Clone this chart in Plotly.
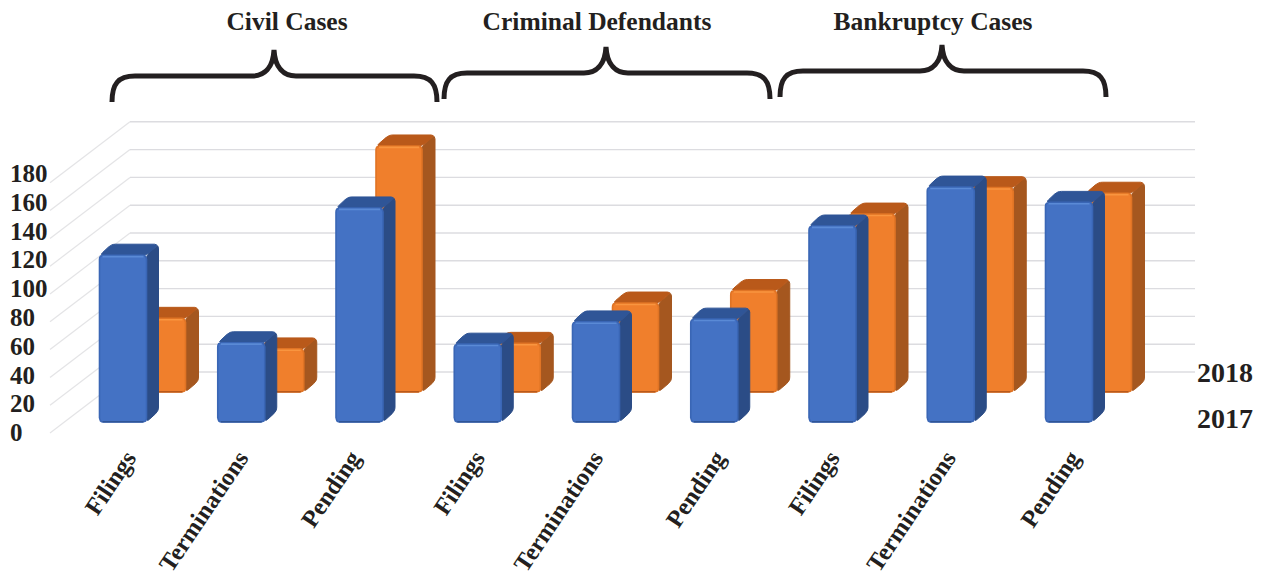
import plotly.graph_objects as go

# ---- data ----
groups = ["Civil Cases", "Criminal Defendants", "Bankruptcy Cases"]
categories = ["Filings", "Terminations", "Pending"] * 3
values_2017 = [120, 57, 154, 56, 72, 74, 141, 169, 158]
values_2018 = [53, 31, 177, 35, 64, 73, 128, 147, 143]
series_names = ["2018", "2017"]
y_ticks = [0, 20, 40, 60, 80, 100, 120, 140, 160, 180]

# ---- geometry and style ----
W, H = 1267, 577
PLOT_BOTTOM = 438
PX_PER_X = 118.25
X0_PX = 124
PX_PER_V = 1.39
V0_PX = 433
LABEL_PX_PER_V = 1.44
LABEL_V0_PX = 435
FONT = "Liberation Serif"
INK = "#231f20"
TICK_NUDGE_PX = [3, -3, -9, -3, -3, 1, -3, -5, 1]


def x_of(px):
    return (px - X0_PX) / PX_PER_X


def v_of(px):
    return (V0_PX - px) / PX_PER_V


def rounded(points, r=3.0, n=4):
    """Rounded polygon in data units, r given in pixels."""
    out = []
    m = len(points)
    for k in range(m):
        p0, p1, p2 = points[k - 1], points[k], points[(k + 1) % m]

        def toward(a, b):
            dx = (b[0] - a[0]) * PX_PER_X
            dy = (b[1] - a[1]) * PX_PER_V
            d = max((dx * dx + dy * dy) ** 0.5, 1e-6)
            f = min(r / d, 0.5)
            return (a[0] + (b[0] - a[0]) * f, a[1] + (b[1] - a[1]) * f)

        a, b = toward(p1, p0), toward(p1, p2)
        for j in range(n + 1):
            t = j / n
            out.append(((1 - t) ** 2 * a[0] + 2 * t * (1 - t) * p1[0] + t * t * b[0],
                        (1 - t) ** 2 * a[1] + 2 * t * (1 - t) * p1[1] + t * t * b[1]))
    out.append(out[0])
    return [p[0] for p in out], [p[1] for p in out]


fig = go.Figure()

# back wall gridlines and side wall diagonals
wall_left, wall_right, wall_front = x_of(130), x_of(1195), x_of(50)
wall_depth = 61 / PX_PER_V
for v in y_ticks:
    fig.add_trace(go.Scatter(
        x=[wall_front, wall_left], y=[v, v + wall_depth], mode="lines",
        line=dict(color="#e4e4e6", width=1.2), hoverinfo="skip", showlegend=False))
    fig.add_trace(go.Scatter(
        x=[wall_left, wall_right], y=[v + wall_depth, v + wall_depth], mode="lines",
        line=dict(color="#dcdce0", width=1.4), hoverinfo="skip", showlegend=False))


def add_face(xs, ys, fill, line, lw=1.0, r=4.0):
    rx, ry = rounded(list(zip(xs, ys)), r=r)
    fig.add_trace(go.Scatter(
        x=rx, y=ry, mode="lines", fill="toself", fillcolor=fill,
        line=dict(color=line, width=lw), hoverinfo="skip", showlegend=False))


def add_bar(i, value, base, dx_shift, width_px, dep_x_px, dep_y_px, front, hi, side, top, edge, low):
    left = i + dx_shift / PX_PER_X
    w = width_px / PX_PER_X
    dx = dep_x_px / PX_PER_X
    dy = dep_y_px / PX_PER_V
    y0, y1 = base, base + value
    # side
    add_face([left + w, left + w + dx, left + w + dx, left + w],
             [y0, y0 + dy, y1 + dy, y1], side, side)
    # top
    add_face([left + 0.002, left + dx, left + w + dx, left + w],
             [y1, y1 + dy, y1 + dy, y1], top, top)
    # front
    add_face([left, left + w, left + w, left],
             [y0, y0, y1, y1], front, edge, lw=1.6)
    # bevels along the top and bottom edges of the front face
    hx = [left + 3 / PX_PER_X, left + w - 3 / PX_PER_X]
    fig.add_trace(go.Scatter(x=hx, y=[y1 - 1.4 / PX_PER_V] * 2, mode="lines",
                             line=dict(color=hi, width=1.6),
                             hoverinfo="skip", showlegend=False))
    fig.add_trace(go.Scatter(x=hx, y=[y0 + 0.2 / PX_PER_V] * 2, mode="lines",
                             line=dict(color=low, width=1.6),
                             hoverinfo="skip", showlegend=False))


# back row first, then front row
BLUE = dict(front="#4472c4", hi="#5a8ad6", side="#2b4c86", top="#2f5597",
            edge="#3a66b5", low="#2f5597")
ORANGE = dict(front="#f07f2c", hi="#f9953f", side="#a5571f", top="#b9591a",
              edge="#e07425", low="#b9591a")
for i, v in enumerate(values_2018):
    add_bar(i, v, 41 / PX_PER_V, 15.5, 46, 13, 11, **ORANGE)
for i, v in enumerate(values_2017):
    add_bar(i, v, 11 / PX_PER_V, -24.5, 47, 12, 11, **BLUE)

# y labels, left aligned, on their own slightly larger scale
fig.add_trace(go.Scatter(
    x=[x_of(10)] * len(y_ticks), y=y_ticks, yaxis="y2", mode="text",
    text=[str(t) for t in y_ticks], textposition="middle right", cliponaxis=False,
    textfont=dict(family=FONT, size=25, color=INK, weight="bold"),
    hoverinfo="skip", showlegend=False))

# series names on the depth axis
fig.add_trace(go.Scatter(
    x=[x_of(1197)] * 2, y=[v_of(375), v_of(421)], mode="text",
    text=series_names, textposition="middle right", cliponaxis=False,
    textfont=dict(family=FONT, size=28, color=INK, weight="bold"),
    hoverinfo="skip", showlegend=False))

# group titles
title_px = [(287, 23.5), (597, 23.5), (933, 23.5)]
for name, (tx, ty) in zip(groups, title_px):
    fig.add_trace(go.Scatter(
        x=[x_of(tx)], y=[v_of(ty)], mode="text", text=[name], textposition="middle center",
        textfont=dict(family=FONT, size=25.5, color=INK, weight="bold"),
        hoverinfo="skip", showlegend=False))


# curly braces over the groups
def brace(l, m, r, yh, ylow, ytip):
    def P(px, py):
        return f"{x_of(px):.4f},{v_of(py):.3f}"
    return ("M" + P(l, ylow)
            + " C" + P(l, yh + 8) + " " + P(l + 6, yh) + " " + P(l + 23, yh)
            + " L" + P(m - 22, yh)
            + " C" + P(m - 10, yh) + " " + P(m - 1, yh - 8) + " " + P(m, ytip)
            + " C" + P(m + 1, yh - 8) + " " + P(m + 10, yh) + " " + P(m + 22, yh)
            + " L" + P(r - 23, yh)
            + " C" + P(r - 6, yh) + " " + P(r, yh + 8) + " " + P(r, ylow))


shapes = [
    dict(type="path", xref="x", yref="y", layer="above",
         path=brace(*b), line=dict(color=INK, width=5))
    for b in [(112, 274, 437, 76, 102, 50),
              (444, 606, 770, 73, 99, 47),
              (780, 942, 1106, 71, 97, 45)]
]

fig.update_layout(
    width=W, height=H, autosize=False,
    margin=dict(l=0, r=0, t=0, b=H - PLOT_BOTTOM, pad=0),
    paper_bgcolor="white", plot_bgcolor="white",
    showlegend=False, shapes=shapes,
    xaxis=dict(
        range=[x_of(0), x_of(W)], tickmode="array",
        tickvals=[i + n / PX_PER_X for i, n in enumerate(TICK_NUDGE_PX)], ticktext=categories,
        tickangle=-56, ticks="", showgrid=False, zeroline=False, showline=False,
        tickfont=dict(family=FONT, size=24.5, color=INK, weight="bold"),
        fixedrange=True, automargin=False),
    yaxis=dict(
        range=[v_of(PLOT_BOTTOM), v_of(0)], showgrid=False, zeroline=False,
        showline=False, showticklabels=False, ticks="", fixedrange=True),
    yaxis2=dict(
        overlaying="y", visible=False, fixedrange=True,
        range=[(LABEL_V0_PX - PLOT_BOTTOM) / LABEL_PX_PER_V, LABEL_V0_PX / LABEL_PX_PER_V]),
)

fig.write_html("out.html", config=dict(displayModeBar=False),
               post_script="document.body.style.margin='0';")
